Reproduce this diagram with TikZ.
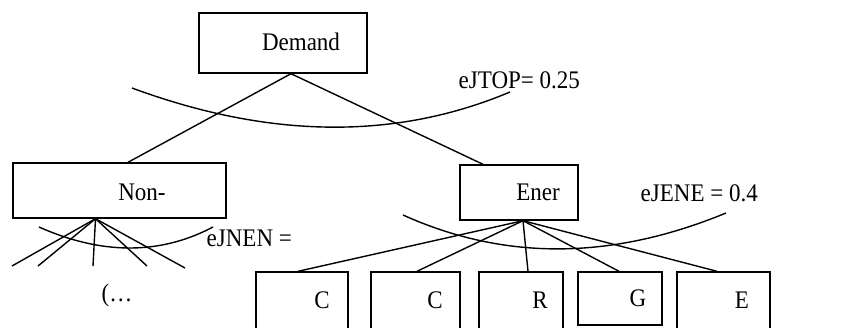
\documentclass[tikz,border=0pt]{standalone}
\usepackage{fontspec}
\usepackage{graphicx}
\setmainfont{Liberation Serif}
% text in this figure is set slightly taller than its width suggests
\newcommand\tallText[1]{\scalebox{1}[1.1]{#1}}
\begin{document}
\begin{tikzpicture}[x=1pt,y=-1pt,
  line width=1.4pt,
  box/.style={draw,line width=1.4pt,rectangle,inner sep=0pt},
  txt/.style={inner sep=0pt,font=\fontsize{23}{27}\selectfont},
  elast/.style={line width=1.4pt}]
\useasboundingbox (0,0) rectangle (866,327);
\clip (0,0) rectangle (866,327);

% top level
\node[box,minimum width=168pt,minimum height=60pt] (dem) at (283,43) {};
\node[txt] (demt) at (301,42) {\tallText{Demand}};

% second level
\node[box,minimum width=213pt,minimum height=55pt] (non) at (119.5,190.5) {};
\node[txt] (nont) at (142,192) {\tallText{Non-}};
\node[box,minimum width=118pt,minimum height=55pt] (ener) at (519,192.5) {};
\node[txt] (enert) at (538,192) {\tallText{Ener}};

% energy carriers (lower edges run off the page)
\node[box,minimum width=92pt,minimum height=70pt] (c1) at (302,307) {};
\node[box,minimum width=89pt,minimum height=70pt] (c2) at (415.5,307) {};
\node[box,minimum width=84pt,minimum height=70pt] (r)  at (521,307) {};
\node[box,minimum width=84pt,minimum height=53pt] (g)  at (620,298.5) {};
\node[box,minimum width=93pt,minimum height=70pt] (e)  at (723.5,307) {};
\node[txt] at (322,300) {\tallText{C}};
\node[txt] at (435,300) {\tallText{C}};
\node[txt] at (540,300) {\tallText{R}};
\node[txt] at (638,298) {\tallText{G}};
\node[txt] at (742,300) {\tallText{E}};

% tree branches
\draw ([xshift=8pt]dem.south) -- ([xshift=8.5pt]non.north);
\draw ([xshift=8pt]dem.south) -- ([xshift=-36pt]ener.north);

\draw ([xshift=4pt]ener.south) -- ([xshift=-4pt]c1.north);
\draw ([xshift=4pt]ener.south) -- ([xshift=1.5pt]c2.north);
\draw ([xshift=4pt]ener.south) -- ([xshift=7pt]r.north);
\draw ([xshift=4pt]ener.south) -- ([xshift=-1pt]g.north);
\draw ([xshift=4pt]ener.south) -- ([xshift=-6.5pt]e.north);

% unnamed non-energy branches
\coordinate (n1) at (12,266);
\coordinate (n2) at (38,266);
\coordinate (n3) at (93,266);
\coordinate (n4) at (147,266);
\coordinate (n5) at (185,268);
\foreach \p in {n1,n2,n3,n4,n5}
  \draw ([xshift=-24pt]non.south) -- (\p);
\node[txt] (more) at (117,295) {\tallText{(\ldots}};

% elasticity arcs
\draw[elast] (132,88) .. controls (270,139) and (396,140) .. (510,92);
\draw[elast] (39,227) .. controls (102,255) and (160,255) .. (213,227);
\draw[elast] (403,215) .. controls (505,261) and (612,260) .. (726,213);

\node[txt,anchor=west] (ltop) at (458,80) {\tallText{eJTOP= 0.25}};
\node[txt,anchor=west] (lnen) at (206,238) {\tallText{eJNEN =}};
\node[txt,anchor=west] (lene) at (640,193) {\tallText{eJENE = 0.4}};
\end{tikzpicture}
\end{document}
